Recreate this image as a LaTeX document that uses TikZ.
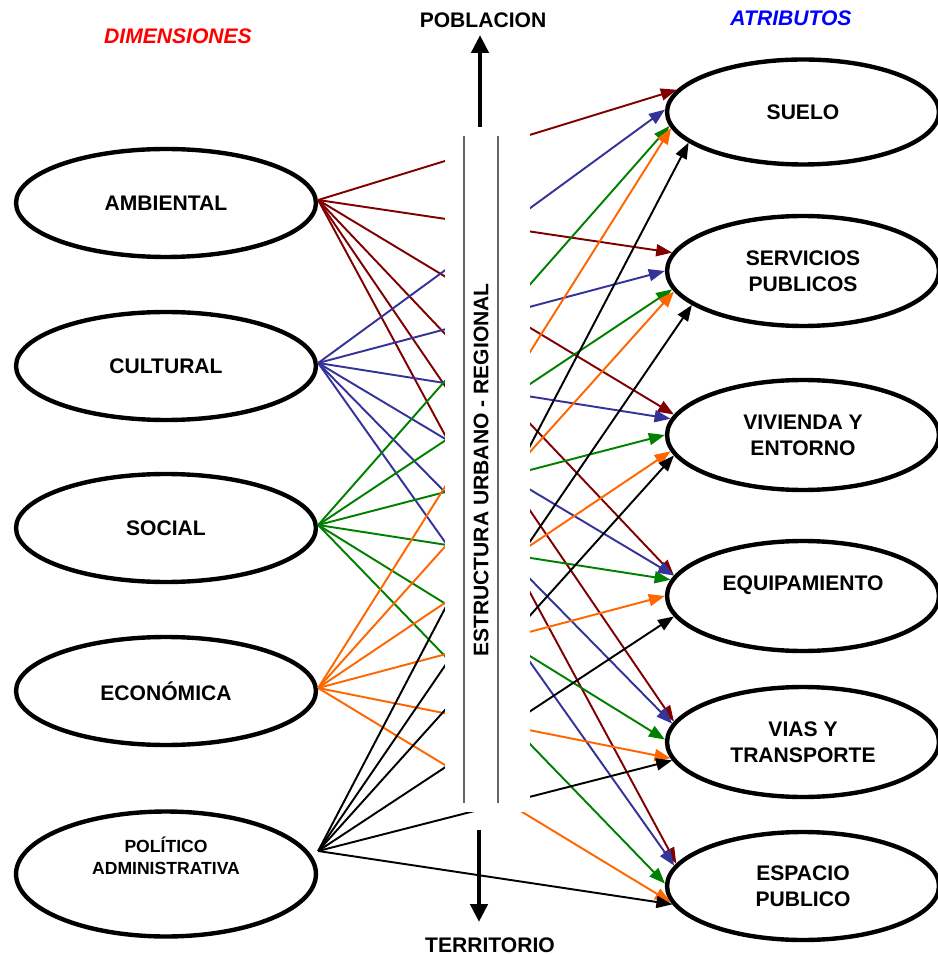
\documentclass[tikz,border=0pt]{standalone}
\usepackage{fontspec}
\setmainfont{Liberation Sans}
\usetikzlibrary{arrows.meta, shapes.geometric}

\definecolor{dimred}{HTML}{800000}
\definecolor{dimblue}{HTML}{333399}
\definecolor{dimgreen}{HTML}{008000}
\definecolor{dimorange}{HTML}{FF6600}
\definecolor{hdred}{HTML}{FF0000}
\definecolor{atrblue}{HTML}{0000FF}

\newcommand{\figfont}{\fontsize{12}{14.8}\selectfont\bfseries}

\begin{document}
\begin{tikzpicture}[x=0.02cm, y=-0.02cm, font=\figfont,
    dim/.style={ellipse, draw, line width=2.5pt, fill=white, inner sep=0pt,
      minimum width=6cm, minimum height=2.16cm, align=center},
    atr/.style={ellipse, draw, line width=2.5pt, fill=white, inner sep=0pt,
      minimum width=5.44cm, minimum height=2.1cm, align=center},
    link/.style={line width=1.1pt, -{Triangle[length=3.2mm, width=2.4mm]}},
    bigarrow/.style={line width=2.8pt, -{Triangle[length=3.6mm, width=3.4mm]}}]

  \useasboundingbox (0,0) rectangle (937,955);

  % ---------------------------------------------------------------- headings
  \node[hdred, font=\figfont\itshape] (hdim) at (178,36) {DIMENSIONES};
  \node[atrblue, font=\figfont\itshape] (hatr) at (791,18) {ATRIBUTOS};

  % ------------------------------------------------------ left: dimensiones
  \node[dim] (amb) at (166,203) {AMBIENTAL};
  \node[dim] (cul) at (166,366) {CULTURAL};
  \node[dim] (soc) at (166,528) {SOCIAL};
  \node[dim] (eco) at (166,691) {ECONÓMICA};
  \node[dim, minimum height=2.5cm,
        font=\fontsize{10}{12.5}\selectfont\bfseries] (pol) at (166,874)
    {POLÍTICO\\ ADMINISTRATIVA\\[8pt]\mbox{}};

  % ------------------------------------------------------- right: atributos
  \node[atr] (suelo) at (803,112) {SUELO};
  \node[atr, minimum height=2.2cm] (serv) at (803,271) {SERVICIOS\\ PUBLICOS};
  \node[atr, minimum height=2.2cm] (viv) at (803,435) {VIVIENDA Y\\ ENTORNO};
  \node[atr, minimum height=2.2cm] (equip) at (803,596) {EQUIPAMIENTO\\ \mbox{}};
  \node[atr, minimum height=2.2cm] (vias) at (803,742) {VIAS Y\\ TRANSPORTE};
  \node[atr, minimum height=2.16cm] (esp) at (803,886) {ESPACIO\\ PUBLICO};

  % ----------------------------------------------------------- the links
  % One colour per dimension; each one reaches every atributo.
  \foreach \t/\a in {suelo/170, serv/172, viv/171, equip/171, vias/171, esp/170}
    \draw[link, dimred] ([yshift=0.06cm]amb.east) -- (\t.\a);
  \foreach \t/\a in {suelo/179, serv/180, viv/173, equip/171, vias/172, esp/171}
    \draw[link, dimblue] ([yshift=0.06cm]cul.east) -- (\t.\a);
  \foreach \t/\a in {suelo/186, serv/188, viv/180, equip/173, vias/179, esp/179}
    \draw[link, dimgreen] ([yshift=0.06cm]soc.east) -- (\t.\a);
  \foreach \t/\a in {suelo/187, serv/189, viv/187, equip/180, vias/187, esp/187}
    \draw[link, dimorange] ([yshift=0.06cm]eco.east) -- (\t.\a);
  \foreach \t/\a in {suelo/195, serv/197, viv/189, equip/189, vias/188, esp/188}
    \draw[link, black] ([yshift=0.46cm]pol.east) -- (\t.\a);

  % ------------------------------------------------------ the central bar
  % White strip hides the links where they pass behind the structure.
  \fill[white] (445,130) rectangle (530,812);
  \draw[black!60, line width=0.8pt] (464,136) -- (464,803);
  \draw[black!60, line width=0.8pt] (498,136) -- (498,803);
  \node[rotate=90] (bar) at (481,470) {ESTRUCTURA URBANO - REGIONAL};

  % ---------------------------------------------------------- the two poles
  \node (pob) at (483,20) {POBLACION};
  \node (ter) at (490,945) {TERRITORIO};
  \coordinate (pobfoot) at (480,127);
  \coordinate (pobtip) at (480,35);
  \coordinate (terfoot) at (479,830);
  \coordinate (tertip) at (479,922);
  \draw[bigarrow] (pobfoot) -- (pobtip);
  \draw[bigarrow] (terfoot) -- (tertip);

\end{tikzpicture}
\end{document}
